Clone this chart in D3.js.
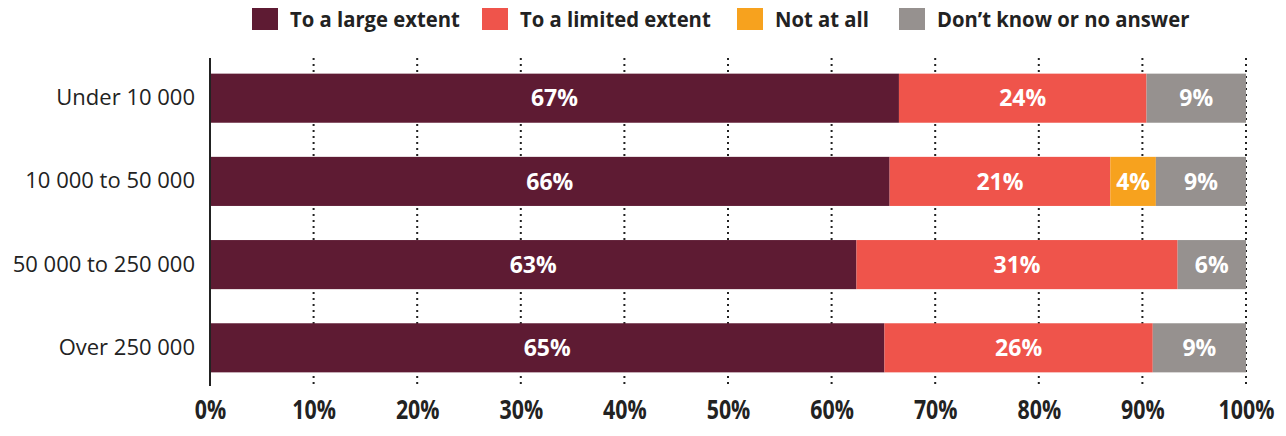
<!DOCTYPE html>
<html><head><meta charset="utf-8">
<script src="https://cdn.jsdelivr.net/npm/d3@7/dist/d3.min.js"></script>
<style>body{margin:0;background:#fff}</style>
</head><body><svg id="c" width="1286" height="436"></svg>
<script>
const categories = ["Under 10 000", "10 000 to 50 000", "50 000 to 250 000", "Over 250 000"];
const seriesNames = ["To a large extent", "To a limited extent", "Not at all", "Don\u2019t know or no answer"];
const largeExtent = [66.5, 65.6, 62.4, 65.1];
const limitedExtent = [23.9, 21.3, 31.0, 25.9];
const notAtAll = [0, 4.4, 0, 0];
const dontKnow = [9.6, 8.7, 6.6, 9.0];
const largeLabels = ["67%", "66%", "63%", "65%"];
const limitedLabels = ["24%", "21%", "31%", "26%"];
const notAtAllLabels = ["", "4%", "", ""];
const dontKnowLabels = ["9%", "9%", "6%", "9%"];
const tickValues = [0, 10, 20, 30, 40, 50, 60, 70, 80, 90, 100];
const colors = ["#5E1B33", "#EF544B", "#F7A21E", "#96918F"];

const series = [largeExtent, limitedExtent, notAtAll, dontKnow];
const labels = [largeLabels, limitedLabels, notAtAllLabels, dontKnowLabels];

const svg = d3.select("#c");
const x = d3.scaleLinear().domain([0, 100]).range([210, 1246]);
const y = d3.scaleBand().domain(categories).range([57, 389]).paddingInner(0.41).paddingOuter(0.2);

const sans = "'Open Sans',sans-serif";
function squeeze(sel, f) {
  sel.each(function () {
    const w = this.getComputedTextLength();
    d3.select(this).attr("textLength", w * f).attr("lengthAdjust", "spacingAndGlyphs");
  });
}

// grid
svg.append("g").selectAll("line").data(tickValues.slice(1)).join("line")
  .attr("x1", d => x(d)).attr("x2", d => x(d)).attr("y1", 58).attr("y2", 388)
  .attr("stroke", "#222").attr("stroke-width", 2).attr("stroke-dasharray", "2,4");

// bars
const stackData = categories.map((c, i) => {
  let acc = 0;
  return series.map((s, k) => { const x0 = acc; acc += s[i]; return {c, k, x0, x1: acc, label: labels[k][i]}; });
});
const g = svg.append("g");
stackData.forEach(row => {
  row.forEach(d => {
    if (d.x1 - d.x0 <= 0) return;
    g.append("rect").attr("x", x(d.x0)).attr("width", x(d.x1) - x(d.x0))
      .attr("y", y(d.c)).attr("height", y.bandwidth()).attr("fill", colors[d.k]);
    if (d.label) g.append("text").attr("x", (x(d.x0) + x(d.x1)) / 2).attr("y", y(d.c) + y.bandwidth() / 2)
      .attr("dy", "0.36em").attr("text-anchor", "middle").attr("fill", "#fff")
      .attr("font-family", sans).attr("font-weight", "bold").attr("font-size", 23)
      .text(d.label);
  });
});

// axis line
svg.append("line").attr("x1", x(0)).attr("x2", x(0)).attr("y1", 58).attr("y2", 386)
  .attr("stroke", "#222").attr("stroke-width", 2);

// category labels
const ya = svg.append("g").attr("transform", `translate(${x(0)},0)`)
  .call(d3.axisLeft(y).tickSize(0).tickPadding(15));
ya.select(".domain").remove();
ya.selectAll("text").attr("font-family", sans).attr("font-size", 22).attr("fill", "#222");

// x tick labels
const xa = svg.append("g").attr("transform", "translate(0,400)")
  .call(d3.axisBottom(x).tickValues(tickValues).tickFormat(d => d + "%").tickSize(0).tickPadding(0));
xa.select(".domain").remove();
xa.selectAll("text").attr("font-family", sans).attr("font-weight", "bold").attr("font-size", 26).attr("fill", "#222").attr("dy", "0.73em");
squeeze(xa.selectAll("text"), 0.82);

// legend
const legX = [252, 482, 737, 899];
const lg = svg.append("g");
seriesNames.forEach((n, i) => {
  lg.append("rect").attr("x", legX[i]).attr("y", 8).attr("width", 26).attr("height", 22).attr("fill", colors[i]);
  lg.append("text").attr("x", legX[i] + 38).attr("y", 19).attr("dy", "0.36em")
    .attr("font-family", sans).attr("font-weight", "bold").attr("font-size", 22).attr("fill", "#222").text(n);
});
squeeze(lg.selectAll("text"), 0.92);
</script></body></html>
